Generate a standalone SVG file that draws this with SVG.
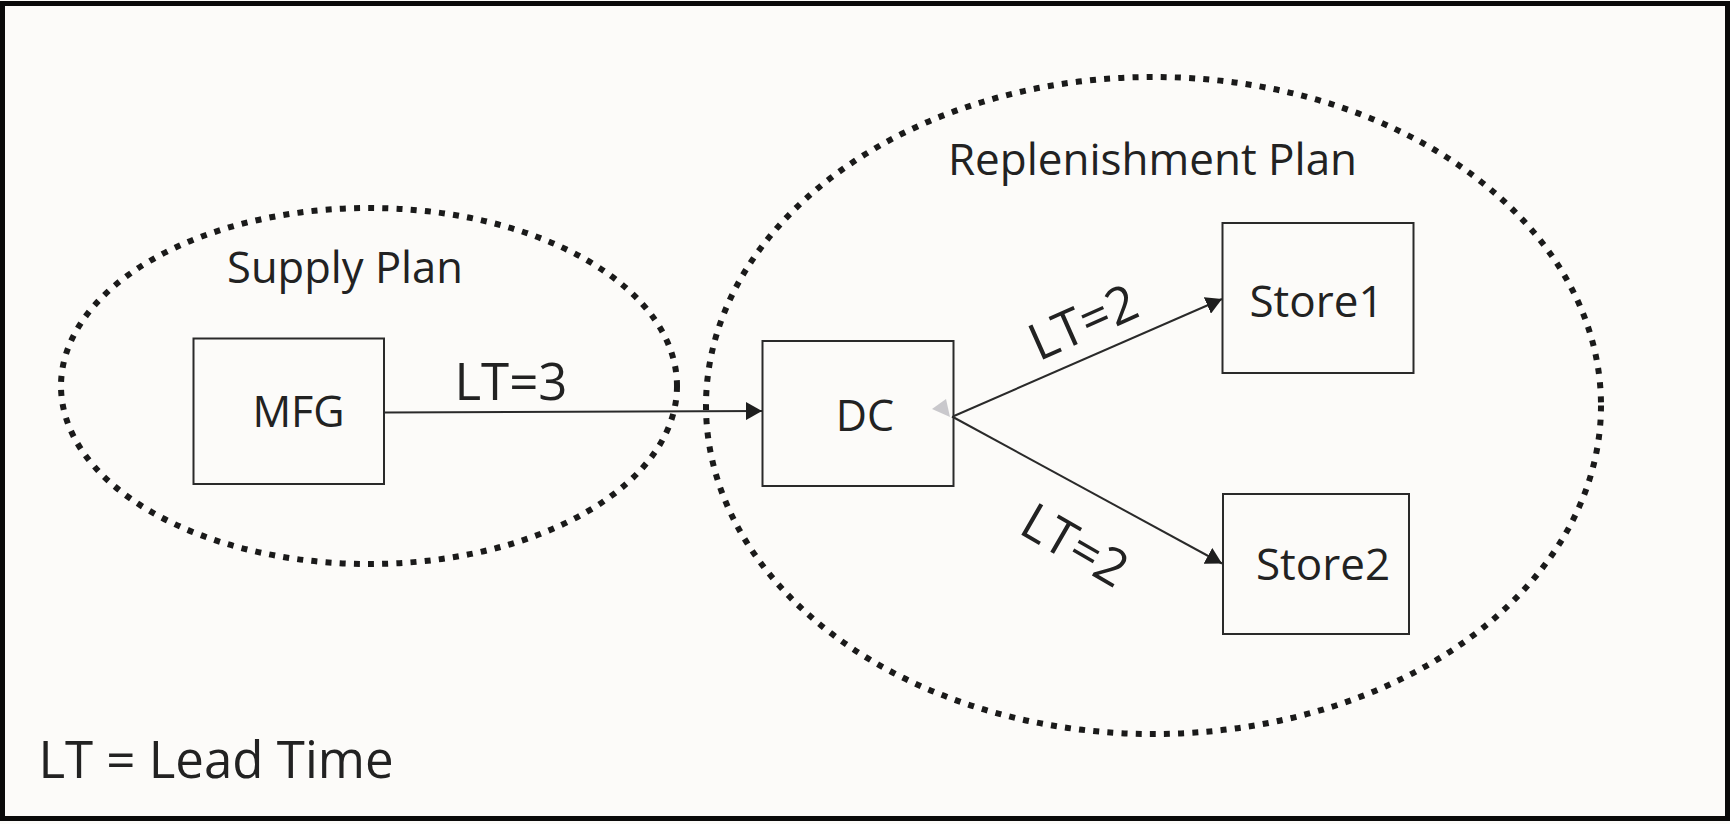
<svg xmlns="http://www.w3.org/2000/svg" width="1730" height="824" viewBox="0 0 1730 824">
  <defs>
    <style>
      .bg { fill: #fcfbf9; }
      .frame { fill: none; stroke: #0a0a0a; stroke-width: 5; }
      .region { fill: none; stroke: #1a1a1a; stroke-width: 6; stroke-dasharray: 6 8.2; }
      .box { fill: #fcfbf9; stroke: #2a2a2a; stroke-width: 2; }
      .lbl { font-family: "Open Sans", "Noto Sans", "DejaVu Sans", sans-serif; fill: #222222; text-anchor: middle; }
      .edge { fill: none; stroke: #2a2a2a; stroke-width: 2; }
    </style>
    <marker id="arrow" viewBox="0 0 16 18" refX="16" refY="9" markerWidth="16" markerHeight="18" markerUnits="userSpaceOnUse" orient="auto">
      <path d="M0,0 L16,9 L0,18 Z" fill="#1e1e1e"/>
    </marker>
  </defs>

  <rect class="bg" x="0" y="0" width="1730" height="824"/>
  <rect class="frame" x="2.5" y="3.5" width="1725" height="815"/>

  <g id="supply-plan">
    <ellipse class="region" cx="369" cy="386" rx="308" ry="178"/>
    <text class="lbl" x="345" y="283" font-size="43.5">Supply Plan</text>
  </g>

  <g id="replenishment-plan">
    <ellipse class="region" cx="1153.5" cy="405.5" rx="447.5" ry="328.5"/>
    <text class="lbl" x="1152.5" y="175" font-size="44">Replenishment Plan</text>
  </g>

  <g id="node-mfg">
    <rect class="box" x="193.5" y="338.5" width="190.5" height="145.5"/>
    <text class="lbl" x="298.5" y="427" font-size="43">MFG</text>
  </g>

  <g id="node-dc">
    <rect class="box" x="762.5" y="341" width="191" height="145"/>
    <text class="lbl" x="865" y="431" font-size="43">DC</text>
  </g>

  <g id="node-store1">
    <rect class="box" x="1222.5" y="223" width="191" height="150"/>
    <text class="lbl" x="1316.5" y="317" font-size="44">Store1</text>
  </g>

  <g id="node-store2">
    <rect class="box" x="1223" y="494" width="186" height="140"/>
    <text class="lbl" x="1323" y="580" font-size="44">Store2</text>
  </g>

  <g id="connectors">
    <line class="edge" x1="384" y1="412.5" x2="762" y2="411" marker-end="url(#arrow)"/>
    <line class="edge" x1="954" y1="416" x2="1222" y2="299" marker-end="url(#arrow)"/>
    <line class="edge" x1="952" y1="416.5" x2="1222" y2="563.5" marker-end="url(#arrow)"/>
    <polygon points="932,409 946,399 950,417" fill="#c9c8cc"/>
    <text class="lbl" font-size="51" transform="translate(511,400)">LT=3</text>
    <text class="lbl" font-size="51" transform="translate(1083,322) rotate(-24) translate(0,18)">LT=2</text>
    <text class="lbl" font-size="51" transform="translate(1075,545) rotate(30) translate(0,18)">LT=2</text>
  </g>

  <g id="legend">
    <text class="lbl" x="216" y="778" font-size="51">LT = Lead Time</text>
  </g>
</svg>
